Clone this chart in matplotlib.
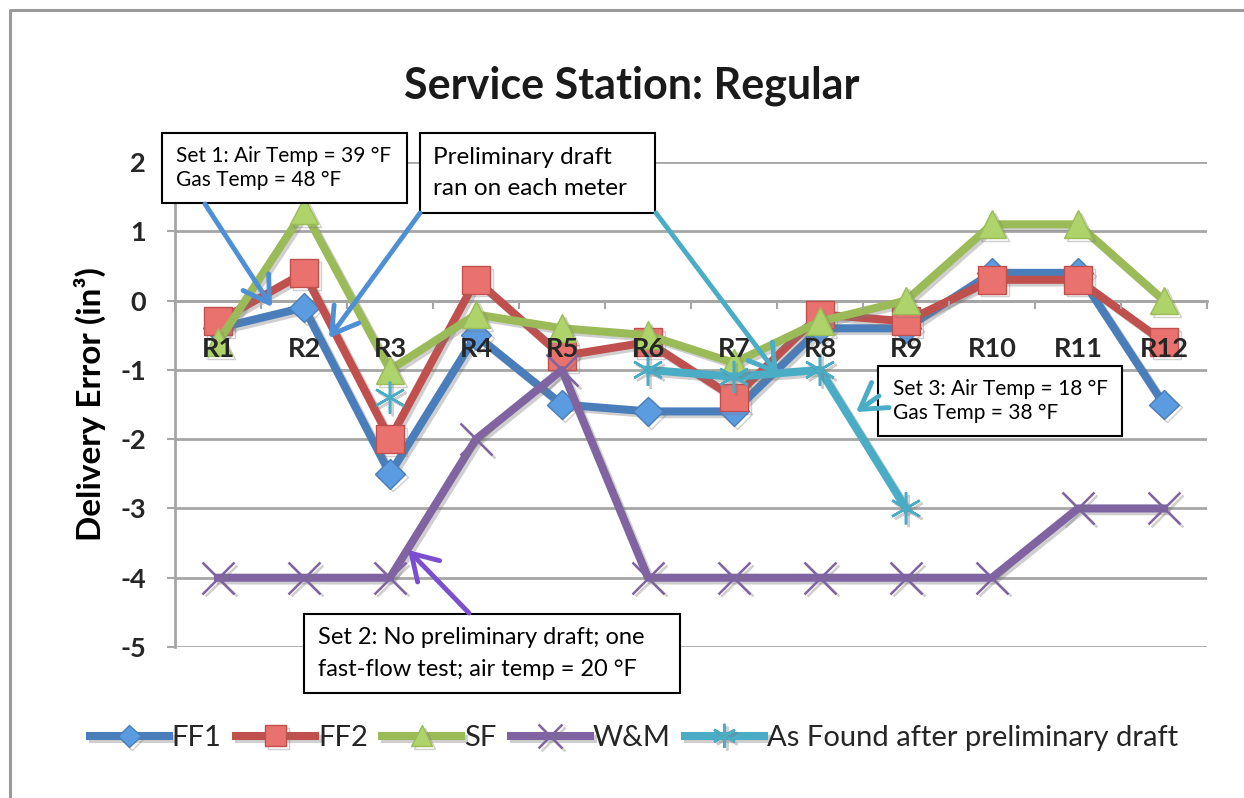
import numpy as np
import matplotlib
matplotlib.use('Agg')
import matplotlib.pyplot as plt
import matplotlib.patheffects as pe
from matplotlib.patches import Rectangle, FancyArrowPatch
from matplotlib.lines import Line2D

plt.rcParams['font.family'] = ['Lato', 'DejaVu Sans']

#==============================================================================
#                              data
#==============================================================================
stations = ['R1', 'R2', 'R3', 'R4', 'R5', 'R6', 'R7', 'R8', 'R9', 'R10', 'R11', 'R12']
ff1      = [-0.4, -0.1, -2.5, -0.5, -1.5, -1.6, -1.6, -0.4, -0.4, 0.4, 0.4, -1.5]
ff2      = [-0.3,  0.4, -2.0,  0.3, -0.8, -0.6, -1.4, -0.2, -0.3, 0.3, 0.3, -0.6]
sf       = [-0.6,  1.3, -1.0, -0.2, -0.4, -0.5, -0.9, -0.3,  0.0, 1.1, 1.1,  0.0]
wm       = [-4, -4, -4, -2, -1, -4, -4, -4, -4, -4, -3, -3]
nan = np.nan
as_found = [nan, nan, -1.4, nan, nan, -1.0, -1.1, -1.0, -3.0, nan, nan, nan]

yticks = [-5, -4, -3, -2, -1, 0, 1, 2]

#==============================================================================
W, H = 1244, 798
fig = plt.figure(figsize=(W/100, H/100), dpi=100)

def fpos(x, y):
    # pixel position (from top-left) -> figure fraction
    return (x/W, 1 - y/H)

ax = fig.add_axes([175/W, 1-647/H, (1207-175)/W, (647-162)/H])

xpos = np.arange(len(stations)) + 0.5
shadow = [pe.SimpleLineShadow(offset=(2, -2), shadow_color='#777777', alpha=0.35), pe.Normal()]

ax.plot(xpos, ff1, color='#4a7ebb', lw=5.8, marker='D', ms=15, mfc='#5b9be0', mec='#4a7ebb',
        mew=1, label='FF1', path_effects=shadow)
ax.plot(xpos, ff2, color='#c0504d', lw=5.8, marker='s', ms=20, mfc='#e9726f', mec='#c0504d',
        mew=1, label='FF2', path_effects=shadow)
ax.plot(xpos, sf, color='#9bbb59', lw=5.8, marker='^', ms=20, mfc='#aed36a', mec='#9bbb59',
        mew=1, label='SF', path_effects=shadow)
ax.plot(xpos, wm, color='#8064a2', lw=5.8, marker='x', ms=23, mec='#8064a2',
        mew=1.8, label='W&M', path_effects=shadow)
ax.plot(xpos, as_found, color='#4bacc6', lw=5.8, marker=(6, 2, 0), ms=23, mec='#4bacc6',
        mew=1.8, label='As Found after preliminary draft', path_effects=shadow)

#------------------------------------------------------------------------------
ax.set_xlim(0, len(stations))
ax.set_ylim(-5, 2)
ax.set_yticks(yticks)
ax.set_yticklabels([str(v) for v in yticks])
# gridlines stay under the series, category labels sit on top of them
for v in yticks:
    ax.axhline(v, color='#a6a6a6', lw=2, zorder=0.5)
ax.set_axisbelow(False)

ax.spines['top'].set_visible(False)
ax.spines['right'].set_visible(False)
ax.spines['bottom'].set_position(('data', 0))
ax.spines['bottom'].set_color('#a6a6a6')
ax.spines['bottom'].set_linewidth(2)
ax.spines['bottom'].set_zorder(0.6)
ax.spines['left'].set_color('#a6a6a6')
ax.spines['left'].set_linewidth(2)
ax.spines['left'].set_zorder(0.6)

ax.set_xticks(np.arange(len(stations) + 1))
ax.set_xticks(xpos, stations, minor=True)
ax.tick_params(axis='x', which='major', direction='out', length=6, width=1.5,
               color='#a6a6a6', labelbottom=False)
ax.tick_params(axis='x', which='minor', length=0, pad=26, labelsize=19.5,
               labelcolor='#262626')
ax.tick_params(axis='y', direction='out', length=6, width=1.5, color='#a6a6a6',
               pad=15, labelsize=19.5, labelcolor='#262626')
for lab in ax.get_xticklabels(minor=True) + ax.get_yticklabels():
    lab.set_fontweight('bold')

ax.set_ylabel('Delivery Error (in³)', fontsize=24, fontweight='bold', labelpad=10)
fig.text(632/W, 1-86/H, 'Service Station: Regular', ha='center', va='center',
         fontsize=31, fontweight='bold', color='#1a1a1a')

#------------------------------------------------------------------------------
#                     annotation boxes and arrows
#------------------------------------------------------------------------------
def note(x0, y0, x1, y1, tx, text, size, spacing):
    fig.add_artist(Rectangle(fpos(x0, y1), (x1-x0)/W, (y1-y0)/H, transform=fig.transFigure,
                             fc='white', ec='black', lw=1.5, zorder=10))
    fig.text(*fpos(tx, (y0+y1)/2), text, ha='left', va='center', fontsize=size,
             linespacing=spacing, zorder=11)

def arrow(p0, p1, color):
    fig.add_artist(FancyArrowPatch(fpos(*p0), fpos(*p1), transform=fig.transFigure,
                                   arrowstyle='->,head_length=0.9,head_width=0.55',
                                   mutation_scale=20, color=color, lw=3.5,
                                   shrinkA=0, shrinkB=0, zorder=12))

note(162, 133, 407, 203, 176, 'Set 1: Air Temp = 39 °F\nGas Temp = 48 °F', 15, 1.3)
note(420, 133, 655, 213, 433, 'Preliminary draft\nran on each meter', 17.5, 1.6)
note(878, 366, 1122, 436, 893, 'Set 3: Air Temp = 18 °F\nGas Temp = 38 °F', 15, 1.3)
note(304, 614, 680, 693, 318, 'Set 2: No preliminary draft; one\nfast-flow test; air temp = 20 °F', 17, 1.65)

arrow((205, 204), (272, 307), '#4f8fd6')
arrow((420, 213), (329, 338), '#4f8fd6')
arrow((656, 213), (778, 375), '#4bacc6')
arrow((879, 396), (856, 412), '#4bacc6')
arrow((469, 613), (408, 550), '#7a4fd0')

#------------------------------------------------------------------------------
lg = fig.legend(loc='center', bbox_to_anchor=(634/W, 1-738/H), ncol=5, frameon=False,
                fontsize=21, handlelength=2.7, handletextpad=0.1, columnspacing=0.5,
                markerscale=0.75)
for t in lg.get_texts():
    t.set_color('#262626')

# outer chart frame
fig.add_artist(Line2D([10/W, 10/W, 1], [0, 1-10/H, 1-10/H], transform=fig.transFigure,
                      color='#9a9a9a', lw=2.2))

plt.savefig('out.png', dpi=100)
